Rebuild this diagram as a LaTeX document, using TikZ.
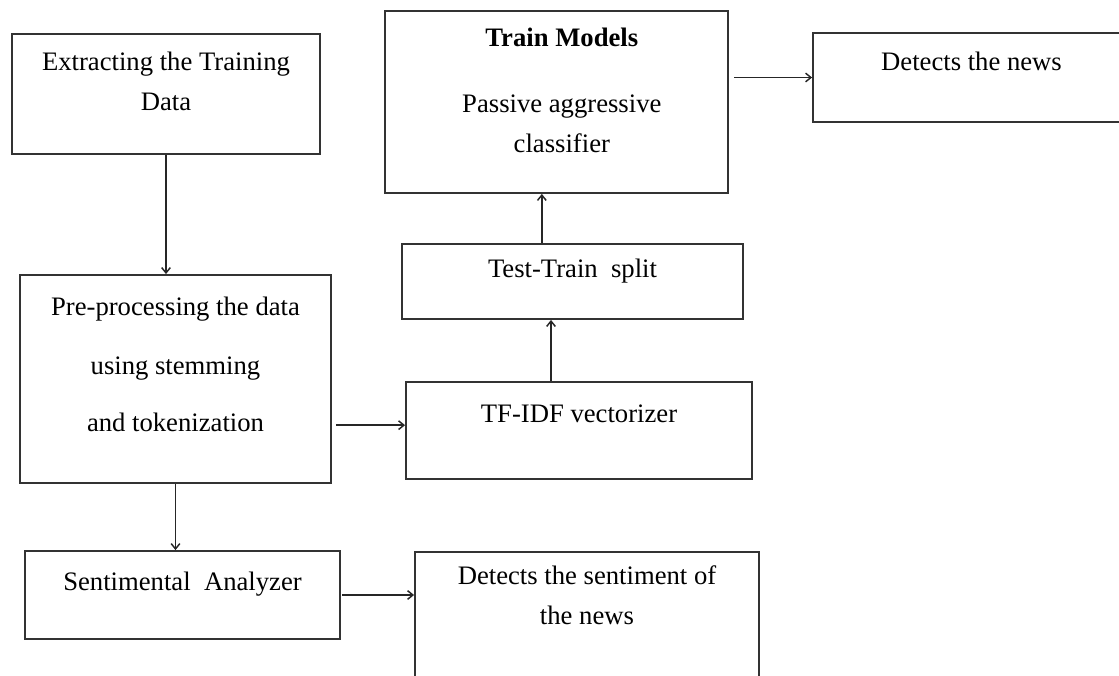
\documentclass[tikz,border=0pt]{standalone}
\usepackage{fontspec}
\setmainfont{Liberation Serif}
\usetikzlibrary{positioning,fit,arrows.meta}

\begin{document}
\begin{tikzpicture}[x=0.75pt,y=-0.75pt,
    box/.style={draw=black!80,line width=1.4pt,inner sep=0pt},
    txt/.style={inner sep=0pt,align=center,font=\fontsize{20}{30}\selectfont},
    arr/.style={-{Straight Barb[length=4pt,width=6.5pt]},line width=1.1pt,draw=black!85}]
  \useasboundingbox (0,0) rectangle (1119,675);
  % boxes
  \node[box,fit={(12,34) (320,154)}] (extract) {};
  \node[box,fit={(385,11) (728,193)}] (train) {};
  \node[box,fit={(813,33) (1130,122)}] (news) {};
  \node[box,fit={(20,275) (331,483)}] (prep) {};
  \node[box,fit={(402,244) (743,319)}] (split) {};
  \node[box,fit={(406,382) (752,479)}] (tfidf) {};
  \node[box,fit={(25,551) (340,639)}] (senti) {};
  \node[box,fit={(415,552) (759,690)}] (sentnews) {};
  % texts
  \node[txt,below=14pt of extract.north] {Extracting the Training\\Data};
  \node[txt,below=13pt of train.north,xshift=4pt] {\textbf{Train Models}\\[20pt]Passive aggressive\\classifier};
  \node[txt,below=15pt of news.north] {Detects the news};
  \node[txt,below=17pt of prep.north] {Pre-processing the data\\[14pt]using stemming\\[13pt]and tokenization};
  \node[txt,below=12pt of split.north] {Test-Train\ \ split};
  \node[txt,below=18pt of tfidf.north] {TF-IDF vectorizer};
  \node[txt,below=16.5pt of senti.north] {Sentimental\ \ Analyzer};
  \node[txt,below=11pt of sentnews.north] {Detects the sentiment of\\the news};
  % connectors
  \draw[arr] (extract.south) -- (extract.south |- prep.north);
  \draw[arr] (prep.south) -- (prep.south |- senti.north);
  \draw[arr,shorten <=3pt] ([yshift=4pt]tfidf.west -| prep.east) -- ([yshift=4pt]tfidf.west);
  \draw[arr] ([xshift=-21pt]tfidf.north) -- ([xshift=-21pt]tfidf.north |- split.south);
  \draw[arr] ([xshift=-23pt]split.north) -- ([xshift=-23pt]split.north |- train.south);
  \draw[arr,shorten <=4pt] (news.west -| train.east) -- (news.west);
  \draw[arr,shorten <=1pt] (senti.east) -- (senti.east -| sentnews.west);
\end{tikzpicture}
\end{document}
